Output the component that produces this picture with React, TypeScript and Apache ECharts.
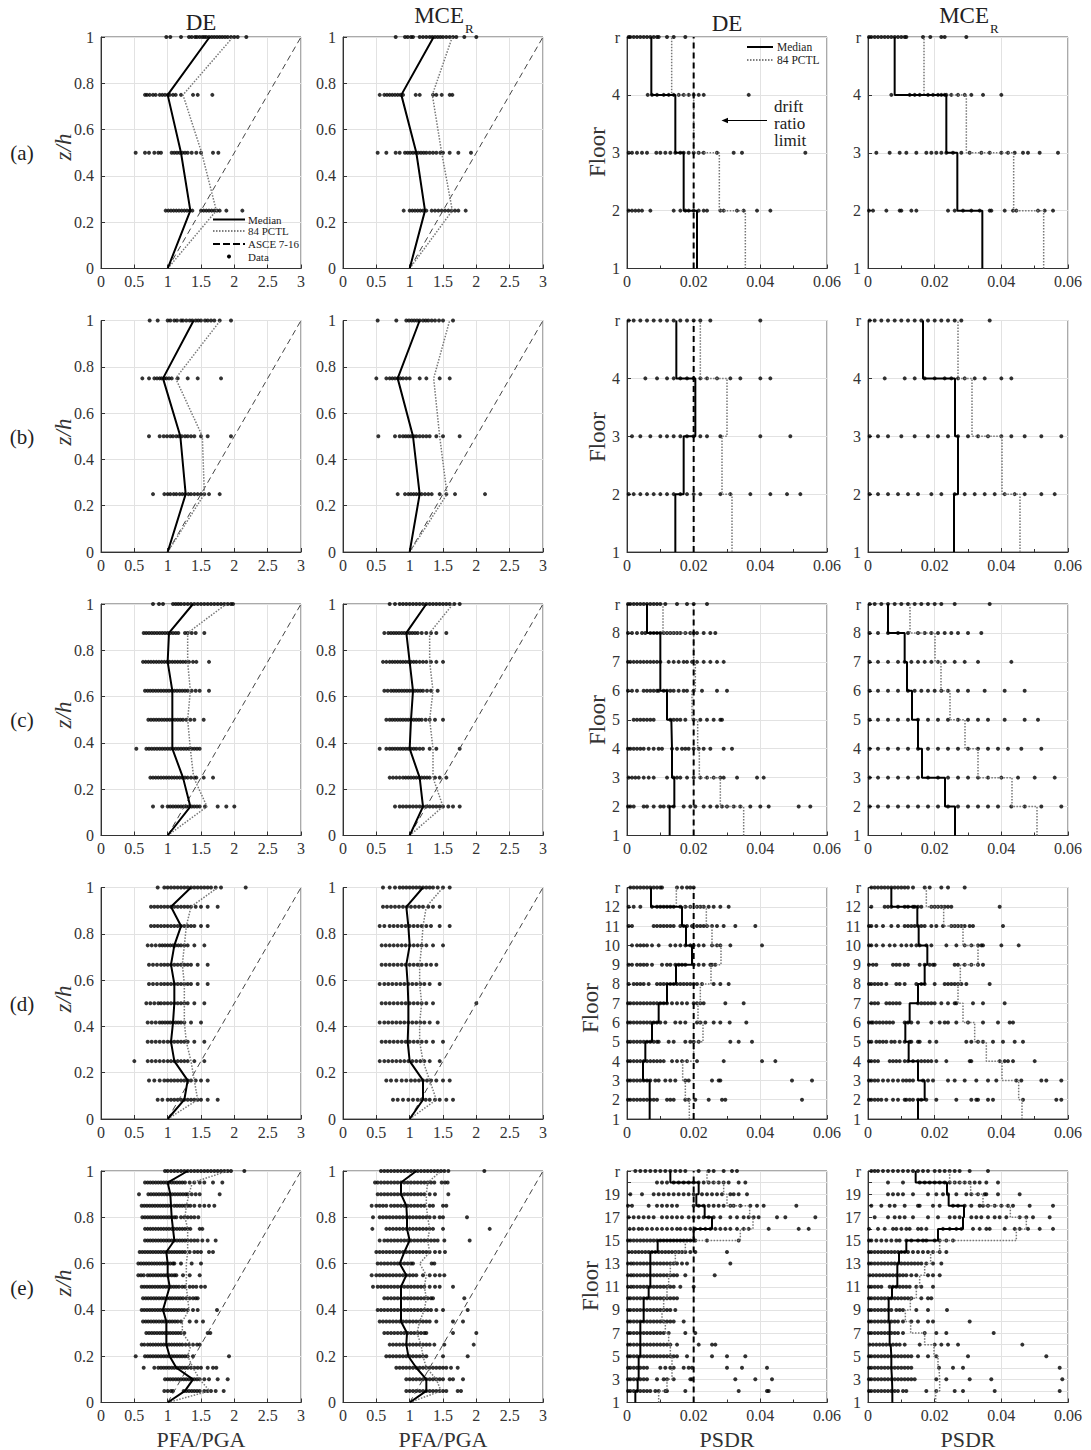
import React, { useEffect, useRef } from "react";
import * as echarts from "echarts";

const SERIF = "'Liberation Serif', 'Times New Roman', serif";

// ---------------- chart constants ----------------
const STOREYS = [4, 4, 8, 12, 20];
const ROW_LABELS = ["(a)", "(b)", "(c)", "(d)", "(e)"];
const ASCE_716 = [[1, 0], [3, 1]];
const DRIFT_LIMIT = 0.02;

// ---------------- row (a): 4 storeys ----------------
// PFA/PGA dots per level, from roof (z/h = 1) downwards
const aDE_pfa = [
  [0.98, 1.04, 1.2, 1.32, 1.36, 1.41, 1.44, 1.48, 1.52, 1.55, 1.58, 1.62, 1.66, 1.7, 1.74, 1.78, 1.82, 1.86, 1.9, 1.95, 2.0, 2.05, 2.18],
  [0.66, 0.69, 0.73, 0.78, 0.82, 0.88, 0.92, 0.96, 1.0, 1.03, 1.08, 1.12, 1.2, 1.38, 1.45, 1.67],
  [0.52, 0.66, 0.72, 0.8, 0.86, 0.9, 1.06, 1.1, 1.14, 1.18, 1.22, 1.26, 1.3, 1.36, 1.43, 1.5, 1.68, 1.76],
  [0.97, 1.01, 1.05, 1.09, 1.13, 1.17, 1.21, 1.25, 1.29, 1.33, 1.37, 1.5, 1.54, 1.58, 1.62, 1.66, 1.7, 1.74, 1.78, 1.88, 2.12],
];
const aDE_pfaMed = [1.0, 1.34, 1.2, 1.0, 1.63];
const aDE_pfa84 = [1.0, 1.73, 1.51, 1.23, 1.98];
const aMCE_pfa = [
  [0.79, 0.93, 0.97, 1.02, 1.05, 1.15, 1.2, 1.25, 1.3, 1.34, 1.38, 1.42, 1.46, 1.5, 1.55, 1.6, 1.65, 1.7, 1.82, 2.0],
  [0.55, 0.62, 0.66, 0.7, 0.74, 0.78, 0.82, 0.86, 0.9, 1.09, 1.15, 1.35, 1.4, 1.48, 1.6, 1.64],
  [0.52, 0.65, 0.79, 0.85, 0.93, 0.97, 1.01, 1.05, 1.09, 1.13, 1.17, 1.21, 1.25, 1.3, 1.35, 1.4, 1.46, 1.5, 1.6, 1.73, 1.92],
  [0.91, 1.0, 1.04, 1.08, 1.12, 1.16, 1.2, 1.25, 1.33, 1.38, 1.43, 1.48, 1.53, 1.58, 1.63, 1.68, 1.73, 1.84],
];
const aMCE_pfaMed = [1.0, 1.23, 1.1, 0.875, 1.36];
const aMCE_pfa84 = [1.0, 1.64, 1.48, 1.34, 1.64];
// PSDR dots per floor, from roof downwards to floor 2
const aDE_dr = [
  [0.0005, 0.001, 0.002, 0.003, 0.004, 0.005, 0.006, 0.007, 0.008, 0.009, 0.0095, 0.012, 0.014, 0.0175],
  [0.0062, 0.0075, 0.009, 0.011, 0.0125, 0.014, 0.0155, 0.017, 0.0185, 0.02, 0.0215, 0.023, 0.0365],
  [0.0005, 0.0015, 0.003, 0.0045, 0.006, 0.0088, 0.01, 0.0115, 0.013, 0.0145, 0.016, 0.017, 0.0185, 0.02, 0.0215, 0.023, 0.027, 0.032, 0.0345, 0.0535],
  [0.0005, 0.0015, 0.0025, 0.0035, 0.0045, 0.007, 0.014, 0.016, 0.0175, 0.0185, 0.02, 0.0215, 0.023, 0.024, 0.028, 0.029, 0.033, 0.035, 0.039, 0.043],
];
// storey medians / 84th percentiles, from storey 1 upwards
const aDE_drMed = [0.021, 0.017, 0.0145, 0.0073];
const aDE_dr84 = [0.0355, 0.0277, 0.02, 0.0134];
const aMCE_dr = [
  [0.0003, 0.001, 0.002, 0.003, 0.004, 0.005, 0.006, 0.007, 0.008, 0.009, 0.01, 0.011, 0.0115, 0.0165, 0.0187, 0.022, 0.023, 0.0295],
  [0.007, 0.0125, 0.014, 0.0155, 0.018, 0.0195, 0.021, 0.022, 0.023, 0.0235, 0.025, 0.027, 0.029, 0.031, 0.0345, 0.04],
  [0.0025, 0.0065, 0.0095, 0.0115, 0.0145, 0.0175, 0.019, 0.0205, 0.022, 0.0235, 0.0255, 0.028, 0.0305, 0.034, 0.0365, 0.04, 0.042, 0.044, 0.0465, 0.048, 0.0515, 0.057],
  [0.0003, 0.0015, 0.0055, 0.0095, 0.01, 0.013, 0.0145, 0.024, 0.026, 0.0285, 0.031, 0.0335, 0.0365, 0.037, 0.041, 0.0435, 0.0445, 0.051, 0.053, 0.0555],
];
const aMCE_drMed = [0.0343, 0.0268, 0.0235, 0.008];
const aMCE_dr84 = [0.0527, 0.0437, 0.0295, 0.0168];

// ---------------- row (b): 4 storeys ----------------
const bDE_pfa = [
  [0.73, 0.85, 1.0, 1.04, 1.1, 1.14, 1.2, 1.23, 1.28, 1.33, 1.37, 1.42, 1.46, 1.5, 1.56, 1.6, 1.65, 1.7, 1.78, 1.95],
  [0.62, 0.72, 0.8, 0.84, 0.88, 0.91, 0.95, 0.98, 1.02, 1.06, 1.15, 1.3, 1.45, 1.8],
  [0.72, 0.88, 0.94, 0.99, 1.04, 1.08, 1.13, 1.17, 1.21, 1.26, 1.3, 1.35, 1.4, 1.5, 1.6, 1.95],
  [0.78, 0.95, 1.0, 1.04, 1.09, 1.13, 1.18, 1.22, 1.26, 1.31, 1.35, 1.4, 1.45, 1.5, 1.55, 1.62, 1.78],
];
const bDE_pfaMed = [1.0, 1.27, 1.19, 0.93, 1.39];
const bDE_pfa84 = [1.0, 1.55, 1.52, 1.12, 1.79];
const bMCE_pfa = [
  [0.52, 0.8, 0.95, 0.99, 1.03, 1.07, 1.11, 1.15, 1.2, 1.24, 1.28, 1.33, 1.38, 1.44, 1.5, 1.65],
  [0.5, 0.65, 0.7, 0.74, 0.78, 0.82, 0.86, 0.9, 0.95, 1.0, 1.15, 1.25, 1.45, 1.6],
  [0.53, 0.78, 0.85, 0.9, 0.94, 0.98, 1.02, 1.06, 1.1, 1.15, 1.2, 1.25, 1.3, 1.4, 1.5, 1.75],
  [0.82, 0.93, 0.98, 1.02, 1.06, 1.1, 1.14, 1.18, 1.23, 1.28, 1.33, 1.45, 1.55, 1.68, 2.13],
];
const bMCE_pfaMed = [1.0, 1.15, 1.05, 0.82, 1.15];
const bMCE_pfa84 = [1.0, 1.56, 1.45, 1.36, 1.6];
const bDE_dr = [
  [0.0005, 0.002, 0.004, 0.006, 0.008, 0.01, 0.012, 0.014, 0.016, 0.018, 0.02, 0.022, 0.025, 0.04],
  [0.0055, 0.009, 0.012, 0.014, 0.016, 0.018, 0.02, 0.022, 0.024, 0.027, 0.031, 0.034, 0.04, 0.043],
  [0.0015, 0.004, 0.007, 0.01, 0.012, 0.014, 0.016, 0.018, 0.02, 0.022, 0.024, 0.028, 0.04, 0.049],
  [0.0005, 0.002, 0.004, 0.006, 0.008, 0.01, 0.012, 0.014, 0.016, 0.018, 0.02, 0.022, 0.028, 0.031, 0.037, 0.043, 0.048, 0.052],
];
const bDE_drMed = [0.0145, 0.017, 0.0205, 0.0148];
const bDE_dr84 = [0.0315, 0.0285, 0.03, 0.022];
const bMCE_dr = [
  [0.0005, 0.002, 0.004, 0.006, 0.008, 0.01, 0.012, 0.014, 0.016, 0.018, 0.02, 0.022, 0.024, 0.026, 0.028, 0.0365],
  [0.005, 0.011, 0.014, 0.017, 0.02, 0.023, 0.025, 0.027, 0.029, 0.032, 0.035, 0.04, 0.043],
  [0.0005, 0.003, 0.006, 0.01, 0.014, 0.018, 0.021, 0.024, 0.027, 0.03, 0.033, 0.036, 0.04, 0.043, 0.047, 0.052, 0.058],
  [0.0005, 0.003, 0.006, 0.009, 0.012, 0.015, 0.019, 0.022, 0.026, 0.029, 0.032, 0.035, 0.038, 0.041, 0.044, 0.047, 0.052, 0.056],
];
const bMCE_drMed = [0.0258, 0.027, 0.0261, 0.0165];
const bMCE_dr84 = [0.0456, 0.0402, 0.0312, 0.027];

// ---------------- row (c): 8 storeys ----------------
const cDE_pfa = [
  [0.78, 0.87, 0.93, 1.08, 1.12, 1.16, 1.2, 1.25, 1.3, 1.35, 1.4, 1.45, 1.5, 1.55, 1.6, 1.65, 1.7, 1.75, 1.8, 1.85, 1.9, 1.95, 1.98],
  [0.64, 0.68, 0.72, 0.76, 0.8, 0.84, 0.88, 0.92, 0.96, 1.0, 1.04, 1.08, 1.12, 1.16, 1.26, 1.3, 1.36, 1.42, 1.55],
  [0.63, 0.67, 0.71, 0.75, 0.79, 0.83, 0.87, 0.91, 0.95, 0.99, 1.03, 1.07, 1.11, 1.15, 1.19, 1.23, 1.27, 1.32, 1.38, 1.43, 1.62],
  [0.66, 0.7, 0.74, 0.78, 0.82, 0.86, 0.9, 0.94, 0.98, 1.02, 1.06, 1.1, 1.14, 1.18, 1.22, 1.26, 1.3, 1.36, 1.42, 1.48, 1.62],
  [0.71, 0.75, 0.79, 0.83, 0.87, 0.91, 0.95, 0.99, 1.03, 1.07, 1.11, 1.15, 1.19, 1.23, 1.28, 1.34, 1.4, 1.54],
  [0.53, 0.68, 0.72, 0.76, 0.8, 0.84, 0.88, 0.92, 0.96, 1.0, 1.04, 1.08, 1.12, 1.16, 1.2, 1.24, 1.28, 1.32, 1.36, 1.4, 1.44, 1.48],
  [0.74, 0.78, 0.82, 0.86, 0.9, 0.94, 0.98, 1.02, 1.06, 1.1, 1.14, 1.18, 1.22, 1.26, 1.3, 1.35, 1.4, 1.43, 1.54, 1.68],
  [0.78, 0.92, 1.0, 1.04, 1.08, 1.12, 1.16, 1.2, 1.24, 1.28, 1.32, 1.36, 1.4, 1.44, 1.48, 1.56, 1.75, 1.88, 2.0],
];
const cDE_pfaMed = [1.0, 1.34, 1.23, 1.07, 1.07, 1.07, 1.0, 1.02, 1.38];
const cDE_pfa84 = [1.0, 1.59, 1.39, 1.34, 1.3, 1.34, 1.3, 1.3, 1.88];
const cMCE_pfa = [
  [0.7, 0.78, 0.85, 0.9, 0.95, 1.0, 1.05, 1.1, 1.15, 1.2, 1.25, 1.3, 1.35, 1.4, 1.45, 1.5, 1.55, 1.6, 1.67, 1.75],
  [0.62, 0.68, 0.72, 0.76, 0.8, 0.84, 0.88, 0.92, 0.96, 1.0, 1.04, 1.08, 1.12, 1.18, 1.25, 1.32, 1.4, 1.55],
  [0.6, 0.65, 0.7, 0.74, 0.78, 0.82, 0.86, 0.9, 0.94, 0.98, 1.02, 1.06, 1.1, 1.15, 1.2, 1.25, 1.32, 1.4, 1.5],
  [0.62, 0.67, 0.72, 0.76, 0.8, 0.84, 0.88, 0.92, 0.96, 1.0, 1.04, 1.08, 1.12, 1.16, 1.2, 1.26, 1.32, 1.42],
  [0.65, 0.7, 0.74, 0.78, 0.82, 0.86, 0.9, 0.94, 0.98, 1.02, 1.06, 1.1, 1.14, 1.18, 1.24, 1.3, 1.38, 1.5],
  [0.55, 0.65, 0.7, 0.74, 0.78, 0.82, 0.86, 0.9, 0.94, 0.98, 1.02, 1.06, 1.1, 1.15, 1.2, 1.3, 1.4, 1.75],
  [0.7, 0.75, 0.8, 0.85, 0.9, 0.94, 0.98, 1.02, 1.06, 1.1, 1.14, 1.18, 1.22, 1.26, 1.3, 1.38, 1.45, 1.55],
  [0.78, 0.85, 0.9, 0.95, 1.0, 1.05, 1.1, 1.15, 1.2, 1.25, 1.3, 1.35, 1.4, 1.45, 1.5, 1.58, 1.65, 1.75],
];
const cMCE_pfaMed = [1.0, 1.2, 1.15, 1.0, 1.02, 1.05, 1.0, 0.95, 1.25];
const cMCE_pfa84 = [1.0, 1.5, 1.35, 1.35, 1.3, 1.35, 1.3, 1.3, 1.65];
const cDE_dr = [
  [0.0003, 0.001, 0.002, 0.003, 0.004, 0.005, 0.006, 0.007, 0.008, 0.009, 0.01, 0.0115, 0.015, 0.018, 0.02, 0.024],
  [0.0003, 0.0015, 0.003, 0.0045, 0.0055, 0.007, 0.008, 0.009, 0.01, 0.011, 0.012, 0.013, 0.014, 0.015, 0.016, 0.0175, 0.019, 0.02, 0.021, 0.023, 0.025, 0.0265],
  [0.0003, 0.001, 0.002, 0.003, 0.004, 0.005, 0.006, 0.007, 0.008, 0.009, 0.01, 0.0125, 0.014, 0.0155, 0.017, 0.018, 0.0195, 0.021, 0.023, 0.025, 0.027, 0.029],
  [0.0003, 0.0015, 0.003, 0.005, 0.006, 0.007, 0.008, 0.009, 0.0095, 0.011, 0.012, 0.013, 0.014, 0.0155, 0.017, 0.018, 0.02, 0.0225, 0.027, 0.03],
  [0.002, 0.003, 0.004, 0.005, 0.006, 0.007, 0.008, 0.013, 0.014, 0.015, 0.016, 0.0175, 0.02, 0.022, 0.024, 0.026, 0.028, 0.0285],
  [0.0003, 0.001, 0.002, 0.003, 0.004, 0.005, 0.0065, 0.008, 0.0095, 0.0105, 0.0135, 0.015, 0.0165, 0.0175, 0.0185, 0.02, 0.0215, 0.023, 0.025, 0.029, 0.0315],
  [0.0005, 0.0015, 0.0025, 0.0035, 0.005, 0.0065, 0.008, 0.012, 0.014, 0.015, 0.016, 0.018, 0.02, 0.022, 0.024, 0.026, 0.028, 0.029, 0.033, 0.039, 0.041],
  [0.0003, 0.001, 0.002, 0.005, 0.006, 0.008, 0.01, 0.011, 0.0125, 0.014, 0.017, 0.019, 0.0205, 0.023, 0.025, 0.027, 0.0285, 0.03, 0.032, 0.034, 0.037, 0.04, 0.0425, 0.0515, 0.055],
];
const cDE_drMed = [0.0128, 0.0142, 0.0135, 0.0133, 0.012, 0.01, 0.01, 0.006];
const cDE_dr84 = [0.035, 0.028, 0.0217, 0.0212, 0.0195, 0.0205, 0.02, 0.0108];
const cMCE_dr = [
  [0.0005, 0.002, 0.004, 0.006, 0.008, 0.01, 0.012, 0.014, 0.016, 0.018, 0.02, 0.022, 0.026, 0.0365],
  [0.0005, 0.003, 0.006, 0.009, 0.012, 0.015, 0.017, 0.019, 0.021, 0.023, 0.025, 0.027, 0.03, 0.034],
  [0.0005, 0.003, 0.006, 0.009, 0.011, 0.013, 0.015, 0.017, 0.019, 0.021, 0.023, 0.026, 0.029, 0.033, 0.043],
  [0.0005, 0.003, 0.006, 0.009, 0.012, 0.014, 0.016, 0.018, 0.02, 0.022, 0.024, 0.027, 0.03, 0.035, 0.041, 0.047],
  [0.0005, 0.003, 0.006, 0.009, 0.012, 0.015, 0.018, 0.021, 0.024, 0.027, 0.03, 0.033, 0.036, 0.041, 0.047, 0.051],
  [0.0005, 0.003, 0.006, 0.009, 0.012, 0.015, 0.018, 0.021, 0.024, 0.027, 0.03, 0.033, 0.036, 0.039, 0.042, 0.046, 0.052],
  [0.0005, 0.003, 0.006, 0.009, 0.012, 0.015, 0.018, 0.021, 0.024, 0.027, 0.03, 0.033, 0.036, 0.04, 0.045, 0.05, 0.056],
  [0.0005, 0.003, 0.006, 0.009, 0.012, 0.015, 0.018, 0.021, 0.024, 0.027, 0.03, 0.033, 0.036, 0.039, 0.043, 0.047, 0.052, 0.058],
];
const cMCE_drMed = [0.0261, 0.0231, 0.0162, 0.015, 0.0132, 0.0117, 0.011, 0.006];
const cMCE_dr84 = [0.0507, 0.0432, 0.033, 0.0291, 0.0246, 0.0219, 0.0201, 0.0126];

// ---------------- row (d): 12 storeys ----------------
const dDE_pfa = [
  [0.85, 0.95, 1.0, 1.05, 1.1, 1.15, 1.2, 1.25, 1.3, 1.35, 1.4, 1.45, 1.5, 1.55, 1.6, 1.65, 1.72, 1.8, 2.17],
  [0.75, 0.8, 0.85, 0.9, 0.95, 1.0, 1.05, 1.1, 1.15, 1.2, 1.25, 1.3, 1.35, 1.42, 1.5, 1.6, 1.75],
  [0.75, 0.8, 0.85, 0.9, 0.95, 1.0, 1.05, 1.1, 1.15, 1.2, 1.25, 1.3, 1.35, 1.4, 1.5, 1.6],
  [0.7, 0.76, 0.82, 0.88, 0.92, 0.96, 1.0, 1.04, 1.08, 1.12, 1.16, 1.2, 1.25, 1.3, 1.4, 1.55],
  [0.72, 0.78, 0.84, 0.9, 0.95, 1.0, 1.05, 1.1, 1.15, 1.2, 1.25, 1.3, 1.35, 1.45, 1.6],
  [0.72, 0.78, 0.84, 0.9, 0.95, 1.0, 1.05, 1.1, 1.15, 1.2, 1.25, 1.3, 1.35, 1.45, 1.6],
  [0.68, 0.74, 0.8, 0.86, 0.9, 0.95, 1.0, 1.05, 1.1, 1.15, 1.2, 1.25, 1.3, 1.4, 1.55],
  [0.7, 0.76, 0.82, 0.88, 0.92, 0.96, 1.0, 1.04, 1.08, 1.12, 1.16, 1.2, 1.25, 1.35, 1.5],
  [0.7, 0.76, 0.82, 0.88, 0.94, 1.0, 1.05, 1.1, 1.15, 1.2, 1.25, 1.3, 1.4, 1.55],
  [0.5, 0.7, 0.76, 0.82, 0.88, 0.94, 1.0, 1.05, 1.1, 1.15, 1.2, 1.25, 1.3, 1.4, 1.55],
  [0.72, 0.8, 0.88, 0.95, 1.0, 1.05, 1.1, 1.15, 1.2, 1.25, 1.3, 1.35, 1.42, 1.5, 1.6],
  [0.85, 0.92, 1.0, 1.05, 1.1, 1.15, 1.2, 1.25, 1.3, 1.35, 1.4, 1.45, 1.5, 1.6, 1.75],
];
const dDE_pfaMed = [1.0, 1.25, 1.3, 1.1, 1.05, 1.08, 1.1, 1.1, 1.05, 1.1, 1.2, 1.05, 1.35];
const dDE_pfa84 = [1.0, 1.45, 1.4, 1.35, 1.28, 1.25, 1.25, 1.25, 1.22, 1.25, 1.28, 1.35, 1.75];
const dMCE_pfa = [
  [0.6, 0.7, 0.78, 0.85, 0.9, 0.95, 1.0, 1.05, 1.1, 1.15, 1.2, 1.25, 1.3, 1.35, 1.42, 1.5, 1.6],
  [0.6, 0.66, 0.72, 0.78, 0.84, 0.9, 0.96, 1.02, 1.08, 1.14, 1.2, 1.28, 1.35, 1.45],
  [0.55, 0.62, 0.7, 0.76, 0.82, 0.88, 0.94, 1.0, 1.06, 1.12, 1.18, 1.25, 1.32, 1.45, 1.6],
  [0.58, 0.64, 0.7, 0.76, 0.82, 0.88, 0.94, 1.0, 1.06, 1.12, 1.18, 1.25, 1.35, 1.5],
  [0.58, 0.64, 0.7, 0.76, 0.82, 0.88, 0.94, 1.0, 1.06, 1.12, 1.18, 1.25, 1.32, 1.4],
  [0.55, 0.62, 0.68, 0.74, 0.8, 0.86, 0.92, 0.98, 1.04, 1.1, 1.16, 1.22, 1.3, 1.45],
  [0.58, 0.64, 0.7, 0.76, 0.82, 0.88, 0.94, 1.0, 1.06, 1.12, 1.18, 1.25, 1.35, 2.0],
  [0.55, 0.62, 0.68, 0.74, 0.8, 0.86, 0.92, 0.98, 1.04, 1.1, 1.16, 1.22, 1.3, 1.42],
  [0.58, 0.64, 0.7, 0.76, 0.82, 0.88, 0.94, 1.0, 1.06, 1.12, 1.18, 1.25, 1.35, 1.5],
  [0.55, 0.62, 0.68, 0.74, 0.8, 0.86, 0.92, 0.98, 1.04, 1.1, 1.16, 1.22, 1.3, 1.45],
  [0.65, 0.72, 0.8, 0.88, 0.95, 1.02, 1.08, 1.14, 1.2, 1.26, 1.32, 1.4, 1.5, 1.6],
  [0.75, 0.82, 0.9, 0.98, 1.05, 1.12, 1.18, 1.24, 1.3, 1.38, 1.45, 1.55, 1.65],
];
const dMCE_pfaMed = [1.0, 1.2, 1.2, 1.0, 0.97, 0.98, 0.98, 0.97, 0.95, 1.0, 0.98, 0.95, 1.2];
const dMCE_pfa84 = [1.0, 1.4, 1.3, 1.2, 1.15, 1.15, 1.18, 1.15, 1.15, 1.18, 1.2, 1.25, 1.5];
const dDE_dr = [
  [0.001, 0.002, 0.003, 0.004, 0.005, 0.006, 0.007, 0.008, 0.009, 0.01, 0.0105, 0.015, 0.0165, 0.018, 0.019, 0.02],
  [0.0005, 0.002, 0.004, 0.0075, 0.009, 0.01, 0.011, 0.012, 0.013, 0.014, 0.016, 0.0175, 0.019, 0.021, 0.022, 0.023, 0.0245, 0.026, 0.028, 0.0305],
  [0.0005, 0.0015, 0.008, 0.009, 0.01, 0.011, 0.012, 0.013, 0.014, 0.016, 0.017, 0.018, 0.0195, 0.021, 0.022, 0.023, 0.024, 0.0255, 0.027, 0.029, 0.0325, 0.0385],
  [0.0015, 0.003, 0.004, 0.005, 0.006, 0.0075, 0.0095, 0.013, 0.0145, 0.016, 0.0175, 0.019, 0.02, 0.0215, 0.023, 0.0255, 0.027, 0.028, 0.031, 0.0405],
  [0.0005, 0.0015, 0.003, 0.004, 0.005, 0.006, 0.0075, 0.0105, 0.012, 0.013, 0.0145, 0.0155, 0.0165, 0.0175, 0.02, 0.0215, 0.023, 0.025, 0.0255, 0.0265],
  [0.0005, 0.002, 0.003, 0.004, 0.005, 0.0065, 0.009, 0.01, 0.011, 0.012, 0.013, 0.014, 0.015, 0.016, 0.017, 0.018, 0.019, 0.02, 0.021, 0.0225, 0.026, 0.028, 0.0305],
  [0.0003, 0.001, 0.002, 0.003, 0.004, 0.005, 0.006, 0.007, 0.008, 0.009, 0.01, 0.011, 0.012, 0.0135, 0.015, 0.0165, 0.018, 0.02, 0.021, 0.022, 0.023, 0.0295, 0.035],
  [0.0003, 0.001, 0.002, 0.003, 0.004, 0.005, 0.006, 0.007, 0.008, 0.009, 0.01, 0.0115, 0.0145, 0.016, 0.0175, 0.021, 0.022, 0.0235, 0.026, 0.028, 0.0308, 0.0358],
  [0.0003, 0.001, 0.002, 0.003, 0.004, 0.005, 0.006, 0.007, 0.008, 0.009, 0.0095, 0.0125, 0.014, 0.0175, 0.019, 0.02, 0.0215, 0.031, 0.0335, 0.0375],
  [0.0003, 0.001, 0.002, 0.003, 0.004, 0.005, 0.006, 0.007, 0.008, 0.009, 0.01, 0.011, 0.0135, 0.015, 0.0165, 0.018, 0.021, 0.029, 0.0405, 0.0445],
  [0.0003, 0.001, 0.002, 0.003, 0.004, 0.005, 0.006, 0.007, 0.0085, 0.0095, 0.0115, 0.013, 0.0145, 0.0175, 0.0185, 0.0255, 0.0275, 0.028, 0.0495, 0.0555],
  [0.0003, 0.001, 0.002, 0.003, 0.004, 0.005, 0.006, 0.007, 0.008, 0.009, 0.012, 0.013, 0.014, 0.0175, 0.0185, 0.0205, 0.0245, 0.0285, 0.0295, 0.0525],
];
const dDE_drMed = [0.0068, 0.0068, 0.0048, 0.0055, 0.0075, 0.0095, 0.012, 0.0147, 0.0195, 0.0177, 0.0165, 0.0072];
const dDE_dr84 = [0.0187, 0.0175, 0.0167, 0.02, 0.0228, 0.0213, 0.022, 0.0252, 0.0282, 0.0255, 0.0238, 0.0148];
const dMCE_dr = [
  [0.001, 0.002, 0.003, 0.004, 0.005, 0.006, 0.007, 0.008, 0.009, 0.01, 0.011, 0.012, 0.0135, 0.017, 0.0185, 0.022, 0.024, 0.029],
  [0.001, 0.005, 0.006, 0.007, 0.009, 0.011, 0.012, 0.0135, 0.014, 0.015, 0.016, 0.019, 0.02, 0.021, 0.022, 0.023, 0.024, 0.025, 0.0395],
  [0.0003, 0.001, 0.0025, 0.0045, 0.007, 0.009, 0.011, 0.012, 0.013, 0.014, 0.015, 0.016, 0.017, 0.019, 0.0205, 0.0225, 0.025, 0.026, 0.027, 0.028, 0.029, 0.0305, 0.0315, 0.0405],
  [0.0003, 0.001, 0.0025, 0.0045, 0.0065, 0.008, 0.01, 0.0115, 0.013, 0.0145, 0.0155, 0.0175, 0.019, 0.0235, 0.0265, 0.029, 0.031, 0.033, 0.034, 0.0345, 0.04, 0.0452],
  [0.0003, 0.0015, 0.0025, 0.0075, 0.0085, 0.0095, 0.011, 0.012, 0.0155, 0.017, 0.0185, 0.0195, 0.02, 0.026, 0.027, 0.029, 0.031, 0.033, 0.0345],
  [0.0003, 0.001, 0.002, 0.003, 0.004, 0.0055, 0.0085, 0.0095, 0.011, 0.0145, 0.016, 0.017, 0.02, 0.023, 0.024, 0.025, 0.026, 0.027, 0.028, 0.0295, 0.0365],
  [0.001, 0.002, 0.003, 0.0055, 0.0065, 0.0075, 0.0085, 0.0095, 0.015, 0.016, 0.017, 0.018, 0.019, 0.02, 0.022, 0.024, 0.026, 0.0265, 0.0315, 0.0345, 0.041],
  [0.0003, 0.001, 0.0015, 0.0025, 0.0035, 0.0045, 0.0055, 0.0065, 0.0075, 0.011, 0.012, 0.013, 0.015, 0.019, 0.0215, 0.023, 0.024, 0.0265, 0.03, 0.0345, 0.039, 0.0425, 0.0435],
  [0.0003, 0.001, 0.0025, 0.0035, 0.0045, 0.0055, 0.007, 0.008, 0.0095, 0.011, 0.0125, 0.013, 0.015, 0.0155, 0.0185, 0.0205, 0.0295, 0.031, 0.033, 0.0345, 0.0375, 0.0405, 0.044, 0.0465],
  [0.0003, 0.001, 0.002, 0.003, 0.0065, 0.0075, 0.0085, 0.0095, 0.011, 0.012, 0.0135, 0.015, 0.016, 0.017, 0.018, 0.019, 0.0205, 0.0235, 0.0305, 0.031, 0.0395, 0.041, 0.042, 0.0435, 0.05],
  [0.0003, 0.001, 0.002, 0.003, 0.0045, 0.006, 0.0075, 0.009, 0.0105, 0.0115, 0.0125, 0.0135, 0.0165, 0.018, 0.0195, 0.024, 0.026, 0.029, 0.0325, 0.036, 0.0385, 0.0445, 0.046, 0.052, 0.0535, 0.058],
  [0.0003, 0.001, 0.002, 0.003, 0.004, 0.0055, 0.0075, 0.009, 0.011, 0.0115, 0.0125, 0.0135, 0.015, 0.016, 0.0175, 0.0205, 0.0265, 0.031, 0.0325, 0.033, 0.036, 0.0375, 0.0465, 0.0565, 0.058],
];
const dMCE_drMed = [0.015, 0.017, 0.015, 0.0122, 0.0112, 0.0125, 0.015, 0.017, 0.0178, 0.0152, 0.0148, 0.007];
const dMCE_dr84 = [0.0462, 0.0452, 0.0402, 0.0355, 0.032, 0.0285, 0.027, 0.0277, 0.033, 0.0285, 0.0227, 0.0175];

// ---------------- row (e): 20 storeys ----------------
const eDE_pfa = [
  [0.96, 1.0, 1.05, 1.1, 1.15, 1.2, 1.25, 1.3, 1.35, 1.4, 1.45, 1.5, 1.55, 1.6, 1.65, 1.7, 1.75, 1.8, 1.85, 1.9, 1.95, 2.15],
  [0.66, 0.7, 0.74, 0.78, 0.82, 0.86, 0.9, 0.94, 0.98, 1.02, 1.06, 1.1, 1.14, 1.18, 1.22, 1.26, 1.33, 1.4, 1.48, 1.55, 1.68, 1.82],
  [0.57, 0.71, 0.75, 0.79, 0.83, 0.87, 0.91, 0.95, 0.99, 1.03, 1.07, 1.11, 1.15, 1.19, 1.23, 1.27, 1.3, 1.36, 1.42, 1.48, 1.78],
  [0.61, 0.65, 0.69, 0.73, 0.77, 0.81, 0.85, 0.89, 0.93, 0.97, 1.01, 1.05, 1.1, 1.14, 1.18, 1.22, 1.26, 1.3, 1.34, 1.4, 1.48, 1.55, 1.62, 1.7],
  [0.62, 0.66, 0.7, 0.74, 0.78, 0.82, 0.86, 0.9, 0.94, 0.98, 1.02, 1.06, 1.1, 1.13, 1.2, 1.25, 1.3, 1.35, 1.4, 1.46],
  [0.66, 0.7, 0.74, 0.78, 0.82, 0.86, 0.9, 0.94, 0.98, 1.02, 1.06, 1.1, 1.14, 1.18, 1.22, 1.26, 1.3, 1.34, 1.48, 1.52],
  [0.66, 0.7, 0.74, 0.78, 0.82, 0.86, 0.9, 0.94, 0.98, 1.02, 1.06, 1.1, 1.14, 1.18, 1.22, 1.26, 1.3, 1.35, 1.4, 1.45, 1.52, 1.6, 1.72],
  [0.58, 0.62, 0.66, 0.7, 0.74, 0.78, 0.82, 0.86, 0.9, 0.94, 0.98, 1.02, 1.06, 1.1, 1.14, 1.18, 1.22, 1.26, 1.33, 1.4, 1.45, 1.5, 1.62, 1.68],
  [0.56, 0.6, 0.64, 0.68, 0.72, 0.76, 0.8, 0.84, 0.88, 0.92, 0.96, 1.0, 1.04, 1.08, 1.1, 1.2, 1.36, 1.5],
  [0.56, 0.6, 0.64, 0.7, 0.74, 0.78, 0.82, 0.86, 0.9, 0.94, 0.98, 1.02, 1.06, 1.1, 1.13, 1.23, 1.33, 1.48],
  [0.61, 0.65, 0.69, 0.73, 0.77, 0.81, 0.85, 0.89, 0.93, 0.97, 1.01, 1.05, 1.09, 1.13, 1.17, 1.22, 1.26, 1.33, 1.38, 1.43, 1.5, 1.56],
  [0.63, 0.67, 0.71, 0.75, 0.79, 0.83, 0.87, 0.91, 0.95, 0.99, 1.03, 1.07, 1.11, 1.15, 1.19, 1.23, 1.28, 1.33, 1.38, 1.42, 1.45],
  [0.61, 0.65, 0.69, 0.73, 0.77, 0.81, 0.85, 0.89, 0.93, 0.97, 1.01, 1.05, 1.09, 1.13, 1.17, 1.21, 1.25, 1.3, 1.38, 1.45, 1.74],
  [0.63, 0.67, 0.71, 0.75, 0.79, 0.83, 0.87, 0.91, 0.95, 0.99, 1.03, 1.07, 1.11, 1.15, 1.2, 1.33, 1.43, 1.53],
  [0.68, 0.72, 0.76, 0.8, 0.84, 0.88, 0.92, 0.96, 1.0, 1.04, 1.08, 1.12, 1.16, 1.2, 1.25, 1.6, 1.64],
  [0.61, 0.65, 0.7, 0.74, 0.78, 0.82, 0.86, 0.9, 0.94, 0.98, 1.02, 1.06, 1.1, 1.14, 1.18, 1.22, 1.27, 1.32, 1.38, 1.44, 1.48],
  [0.52, 0.66, 0.7, 0.74, 0.78, 0.82, 0.86, 0.9, 0.94, 0.98, 1.02, 1.06, 1.1, 1.14, 1.18, 1.22, 1.26, 1.3, 1.38, 1.92],
  [0.64, 0.8, 0.86, 0.9, 0.94, 0.98, 1.02, 1.06, 1.1, 1.14, 1.18, 1.22, 1.26, 1.3, 1.35, 1.4, 1.45, 1.5, 1.6, 1.68, 1.73],
  [0.96, 1.0, 1.04, 1.08, 1.12, 1.16, 1.2, 1.24, 1.28, 1.32, 1.36, 1.4, 1.44, 1.48, 1.55, 1.62, 1.75, 1.9],
  [0.95, 1.0, 1.05, 1.08, 1.24, 1.28, 1.32, 1.36, 1.4, 1.44, 1.48, 1.55, 1.6, 1.65, 1.72, 1.84],
];
const eDE_pfaMed = [1.0, 1.26, 1.38, 1.13, 1.03, 0.98, 0.98, 0.98, 0.93, 0.98, 1.03, 1.0, 1.0, 0.98, 1.1, 1.08, 1.06, 1.05, 1.04, 1.0, 1.3];
const eDE_pfa84 = [1.0, 1.63, 1.48, 1.38, 1.3, 1.35, 1.22, 1.22, 1.32, 1.3, 1.28, 1.28, 1.28, 1.3, 1.3, 1.3, 1.26, 1.28, 1.32, 1.37, 1.9];
const eMCE_pfa = [
  [0.57, 0.62, 0.67, 0.72, 0.77, 0.82, 0.87, 0.92, 0.97, 1.02, 1.07, 1.12, 1.17, 1.22, 1.27, 1.32, 1.37, 1.42, 1.47, 1.52, 1.58, 2.12],
  [0.48, 0.52, 0.57, 0.62, 0.67, 0.72, 0.77, 0.82, 0.87, 0.92, 0.97, 1.02, 1.07, 1.12, 1.17, 1.22, 1.27, 1.32, 1.37, 1.48, 1.53, 1.57],
  [0.52, 0.57, 0.62, 0.67, 0.72, 0.77, 0.82, 0.87, 0.92, 0.97, 1.02, 1.07, 1.12, 1.17, 1.22, 1.3, 1.38, 1.58],
  [0.43, 0.5, 0.55, 0.6, 0.65, 0.72, 0.77, 0.82, 0.87, 0.92, 0.97, 1.02, 1.07, 1.12, 1.17, 1.22, 1.3, 1.35, 1.5, 1.55],
  [0.45, 0.55, 0.6, 0.65, 0.7, 0.75, 0.8, 0.85, 0.9, 0.95, 1.0, 1.05, 1.1, 1.15, 1.2, 1.25, 1.3, 1.37, 1.45, 1.5, 1.86],
  [0.44, 0.65, 0.7, 0.75, 0.8, 0.85, 0.9, 0.95, 1.0, 1.05, 1.1, 1.15, 1.2, 1.25, 1.3, 1.35, 1.5, 2.2],
  [0.55, 0.62, 0.67, 0.72, 0.77, 0.82, 0.87, 0.92, 0.97, 1.02, 1.07, 1.12, 1.17, 1.22, 1.27, 1.32, 1.37, 1.42, 1.52, 1.9],
  [0.5, 0.55, 0.6, 0.65, 0.7, 0.75, 0.8, 0.85, 0.9, 0.95, 1.0, 1.05, 1.1, 1.15, 1.2, 1.25, 1.3, 1.38, 1.45, 1.53],
  [0.52, 0.57, 0.62, 0.67, 0.72, 0.77, 0.82, 0.87, 0.92, 0.97, 1.02, 1.05, 1.33, 1.37],
  [0.43, 0.5, 0.55, 0.6, 0.65, 0.7, 0.75, 0.8, 0.85, 0.9, 0.95, 1.0, 1.05, 1.1, 1.2, 1.3, 1.38, 1.45, 1.52],
  [0.45, 0.52, 0.57, 0.62, 0.67, 0.72, 0.77, 0.82, 0.87, 0.92, 0.97, 1.02, 1.07, 1.12, 1.17, 1.22, 1.3, 1.38, 1.45, 1.65],
  [0.62, 0.67, 0.72, 0.77, 0.82, 0.87, 0.92, 0.97, 1.02, 1.07, 1.12, 1.17, 1.22, 1.27, 1.32, 1.35, 1.82],
  [0.52, 0.57, 0.62, 0.67, 0.72, 0.77, 0.82, 0.87, 0.92, 0.97, 1.02, 1.07, 1.12, 1.17, 1.22, 1.27, 1.32, 1.4, 1.5, 1.87],
  [0.55, 0.6, 0.65, 0.7, 0.75, 0.8, 0.85, 0.9, 0.95, 1.0, 1.05, 1.1, 1.15, 1.2, 1.25, 1.3, 1.4, 1.65, 1.8],
  [0.62, 0.67, 0.72, 0.77, 0.82, 0.87, 0.92, 0.97, 1.02, 1.07, 1.12, 1.17, 1.22, 1.25, 1.65, 2.0],
  [0.7, 0.75, 0.8, 0.85, 0.9, 0.95, 1.0, 1.05, 1.1, 1.15, 1.2, 1.25, 1.3, 1.37, 1.52, 1.96],
  [0.65, 0.7, 0.75, 0.8, 0.85, 0.9, 0.95, 1.0, 1.05, 1.1, 1.15, 1.2, 1.25, 1.5, 1.87],
  [0.8, 0.85, 0.9, 0.95, 1.0, 1.05, 1.1, 1.15, 1.2, 1.25, 1.3, 1.35, 1.4, 1.45, 1.5, 1.55, 1.62, 1.72],
  [0.95, 1.0, 1.05, 1.1, 1.15, 1.2, 1.25, 1.3, 1.35, 1.4, 1.45, 1.5, 1.6, 1.65, 1.8],
  [0.95, 1.0, 1.05, 1.1, 1.15, 1.2, 1.25, 1.3, 1.35, 1.4, 1.45, 1.5, 1.55, 1.72, 1.77],
];
const eMCE_pfaMed = [1.0, 1.25, 1.25, 1.1, 0.98, 0.95, 0.96, 0.87, 0.87, 0.87, 0.87, 0.95, 0.85, 0.92, 1.0, 0.96, 0.96, 0.95, 0.87, 0.87, 1.1];
const eMCE_pfa84 = [1.0, 1.47, 1.4, 1.25, 1.2, 1.17, 1.11, 1.15, 1.22, 1.25, 1.22, 1.25, 1.15, 1.3, 1.27, 1.3, 1.27, 1.25, 1.25, 1.27, 1.47];
const eDE_dr = [
  [0.0025, 0.004, 0.0055, 0.007, 0.0085, 0.01, 0.0115, 0.013, 0.0145, 0.016, 0.0175, 0.0215, 0.0245, 0.026, 0.029, 0.0315, 0.033],
  [0.009, 0.0105, 0.012, 0.014, 0.0155, 0.017, 0.0185, 0.02, 0.0215, 0.023, 0.0245, 0.026, 0.0275, 0.029, 0.0305, 0.0335, 0.0355],
  [0.001, 0.0045, 0.008, 0.0095, 0.011, 0.0125, 0.014, 0.0155, 0.017, 0.0185, 0.02, 0.0225, 0.024, 0.0255, 0.027, 0.0285, 0.031, 0.032, 0.0335, 0.036],
  [0.0003, 0.0015, 0.0065, 0.009, 0.0105, 0.012, 0.0135, 0.015, 0.02, 0.0215, 0.023, 0.0245, 0.026, 0.0275, 0.029, 0.031, 0.032, 0.034, 0.037, 0.039, 0.041, 0.0508],
  [0.0005, 0.002, 0.0035, 0.005, 0.0065, 0.008, 0.0105, 0.012, 0.0135, 0.015, 0.0165, 0.0185, 0.02, 0.0215, 0.023, 0.0245, 0.026, 0.028, 0.031, 0.033, 0.035, 0.0365, 0.038, 0.0395, 0.045, 0.0475, 0.0565],
  [0.0008, 0.002, 0.0035, 0.0045, 0.006, 0.0075, 0.009, 0.0105, 0.012, 0.0135, 0.015, 0.016, 0.0175, 0.019, 0.0205, 0.022, 0.0235, 0.025, 0.0265, 0.028, 0.0295, 0.031, 0.033, 0.035, 0.0365, 0.0425, 0.0515, 0.0545],
  [0.0003, 0.001, 0.002, 0.003, 0.004, 0.005, 0.006, 0.007, 0.008, 0.009, 0.01, 0.011, 0.012, 0.013, 0.014, 0.015, 0.016, 0.017, 0.018, 0.019, 0.0205, 0.024, 0.0335],
  [0.0005, 0.0015, 0.0025, 0.0035, 0.0045, 0.0055, 0.0065, 0.0075, 0.0085, 0.0095, 0.0105, 0.0115, 0.0125, 0.0135, 0.0145, 0.0155, 0.0165, 0.0175, 0.019, 0.0205, 0.03],
  [0.0003, 0.0012, 0.002, 0.003, 0.004, 0.005, 0.006, 0.007, 0.008, 0.009, 0.01, 0.011, 0.012, 0.013, 0.014, 0.015, 0.0165, 0.018, 0.031],
  [0.0003, 0.0012, 0.002, 0.003, 0.004, 0.005, 0.006, 0.007, 0.008, 0.009, 0.01, 0.011, 0.012, 0.013, 0.014, 0.015, 0.0175, 0.0263],
  [0.0003, 0.0012, 0.002, 0.003, 0.004, 0.005, 0.006, 0.007, 0.008, 0.009, 0.01, 0.011, 0.012, 0.013, 0.014, 0.016, 0.02],
  [0.0003, 0.001, 0.002, 0.003, 0.004, 0.005, 0.006, 0.007, 0.008, 0.009, 0.01, 0.011, 0.012, 0.013, 0.014, 0.015],
  [0.0003, 0.001, 0.002, 0.003, 0.004, 0.005, 0.006, 0.007, 0.008, 0.009, 0.01, 0.011, 0.012, 0.013, 0.0145],
  [0.0003, 0.001, 0.002, 0.003, 0.004, 0.005, 0.006, 0.007, 0.008, 0.009, 0.01, 0.011, 0.012, 0.013, 0.014, 0.017],
  [0.0003, 0.001, 0.002, 0.003, 0.004, 0.005, 0.006, 0.007, 0.008, 0.009, 0.01, 0.011, 0.0125, 0.0175, 0.0205],
  [0.0003, 0.001, 0.002, 0.003, 0.004, 0.005, 0.006, 0.007, 0.008, 0.009, 0.01, 0.011, 0.012, 0.013, 0.015, 0.0215, 0.0255, 0.0265],
  [0.0003, 0.001, 0.002, 0.003, 0.004, 0.005, 0.006, 0.007, 0.008, 0.009, 0.01, 0.011, 0.012, 0.013, 0.014, 0.015, 0.018, 0.0255, 0.03, 0.0355],
  [0.0003, 0.001, 0.002, 0.003, 0.004, 0.005, 0.006, 0.01, 0.0115, 0.013, 0.014, 0.017, 0.0185, 0.0195, 0.03, 0.0345, 0.042],
  [0.0003, 0.001, 0.002, 0.003, 0.004, 0.005, 0.006, 0.009, 0.011, 0.012, 0.014, 0.019, 0.0195, 0.0325, 0.0385, 0.0435],
  [0.0003, 0.001, 0.002, 0.003, 0.004, 0.005, 0.006, 0.007, 0.0085, 0.0095, 0.0115, 0.012, 0.0175, 0.0335, 0.042, 0.0425],
];
const eDE_drMed = [0.0025, 0.0032, 0.0035, 0.0035, 0.004, 0.004, 0.004, 0.005, 0.005, 0.0065, 0.007, 0.007, 0.007, 0.0092, 0.02, 0.0255, 0.0233, 0.0208, 0.0215, 0.013];
const eDE_dr84 = [0.0095, 0.012, 0.0135, 0.0135, 0.013, 0.0125, 0.0115, 0.0105, 0.011, 0.012, 0.0125, 0.013, 0.0145, 0.0175, 0.034, 0.0378, 0.0368, 0.03, 0.029, 0.024];
const eMCE_dr = [
  [0.001, 0.002, 0.003, 0.0045, 0.006, 0.0075, 0.009, 0.0105, 0.012, 0.0135, 0.015, 0.0165, 0.018, 0.02, 0.0215, 0.023, 0.0245, 0.026, 0.0275, 0.0305, 0.036],
  [0.006, 0.0105, 0.0155, 0.017, 0.0185, 0.02, 0.0215, 0.023, 0.0245, 0.026, 0.0275, 0.029, 0.0305, 0.032, 0.0335, 0.0355, 0.039],
  [0.006, 0.0075, 0.009, 0.0105, 0.0135, 0.018, 0.0205, 0.0225, 0.024, 0.0265, 0.0295, 0.031, 0.033, 0.035, 0.0355, 0.039, 0.0455],
  [0.001, 0.004, 0.0065, 0.008, 0.011, 0.015, 0.0155, 0.0195, 0.0215, 0.0255, 0.027, 0.029, 0.031, 0.0335, 0.0345, 0.036, 0.038, 0.04, 0.042, 0.0435, 0.0485, 0.0555],
  [0.002, 0.006, 0.008, 0.0095, 0.011, 0.0135, 0.018, 0.021, 0.0245, 0.026, 0.0275, 0.031, 0.0325, 0.034, 0.036, 0.038, 0.0395, 0.0415, 0.0455, 0.0475, 0.0495, 0.0545],
  [0.0003, 0.003, 0.005, 0.0075, 0.0085, 0.01, 0.0115, 0.0125, 0.015, 0.016, 0.0175, 0.0225, 0.0245, 0.0265, 0.028, 0.0315, 0.0335, 0.0355, 0.0365, 0.041, 0.044, 0.0455, 0.048, 0.0515, 0.0555],
  [0.0003, 0.001, 0.0025, 0.004, 0.0055, 0.007, 0.0085, 0.0095, 0.0115, 0.013, 0.015, 0.0165, 0.0175, 0.02, 0.0215, 0.0235, 0.0255],
  [0.0003, 0.001, 0.002, 0.003, 0.004, 0.005, 0.006, 0.007, 0.008, 0.009, 0.01, 0.011, 0.012, 0.0135, 0.015, 0.0165, 0.018, 0.0195, 0.0215, 0.0235],
  [0.0003, 0.001, 0.002, 0.003, 0.004, 0.005, 0.006, 0.007, 0.008, 0.009, 0.01, 0.011, 0.012, 0.013, 0.014, 0.015, 0.016, 0.0175, 0.0195, 0.022],
  [0.0005, 0.0015, 0.0025, 0.0035, 0.0045, 0.0055, 0.0065, 0.0075, 0.0085, 0.0095, 0.0105, 0.0115, 0.013, 0.0145, 0.018, 0.0195, 0.0215],
  [0.0003, 0.001, 0.002, 0.003, 0.004, 0.0065, 0.0075, 0.0085, 0.0095, 0.0105, 0.0115, 0.0125, 0.0145, 0.016, 0.0195],
  [0.0003, 0.001, 0.002, 0.003, 0.004, 0.005, 0.006, 0.007, 0.008, 0.009, 0.01, 0.011, 0.012, 0.013, 0.016, 0.018, 0.019],
  [0.0003, 0.001, 0.002, 0.003, 0.004, 0.005, 0.006, 0.007, 0.0085, 0.0095, 0.0105, 0.0145, 0.018, 0.0237],
  [0.0003, 0.001, 0.002, 0.003, 0.004, 0.005, 0.006, 0.007, 0.008, 0.009, 0.0105, 0.013, 0.015, 0.018, 0.0195, 0.0305],
  [0.0003, 0.001, 0.002, 0.003, 0.004, 0.005, 0.006, 0.007, 0.008, 0.009, 0.0105, 0.017, 0.0205, 0.0235, 0.0377],
  [0.0005, 0.0015, 0.0025, 0.0035, 0.0045, 0.0055, 0.0065, 0.0075, 0.0085, 0.0095, 0.011, 0.0155, 0.02, 0.022, 0.024, 0.027, 0.0463],
  [0.0003, 0.001, 0.002, 0.003, 0.004, 0.005, 0.006, 0.007, 0.008, 0.009, 0.01, 0.011, 0.012, 0.013, 0.015, 0.018, 0.0205, 0.03, 0.0535],
  [0.0003, 0.001, 0.002, 0.003, 0.004, 0.005, 0.006, 0.007, 0.008, 0.009, 0.01, 0.011, 0.012, 0.013, 0.0213, 0.0255, 0.0285, 0.0575],
  [0.0003, 0.001, 0.002, 0.003, 0.004, 0.005, 0.006, 0.007, 0.008, 0.009, 0.01, 0.011, 0.012, 0.013, 0.014, 0.0205, 0.0235, 0.0305, 0.037, 0.0583],
  [0.0003, 0.001, 0.002, 0.003, 0.004, 0.005, 0.006, 0.007, 0.008, 0.009, 0.0105, 0.0115, 0.0175, 0.0205, 0.026, 0.0285, 0.038, 0.0575],
];
const eMCE_drMed = [0.0073, 0.0072, 0.007, 0.007, 0.0068, 0.0065, 0.0065, 0.0062, 0.0062, 0.0072, 0.0088, 0.0088, 0.0093, 0.0115, 0.021, 0.0285, 0.0288, 0.0242, 0.0237, 0.0143];
const eMCE_dr84 = [0.0203, 0.0215, 0.0213, 0.021, 0.0198, 0.017, 0.0128, 0.0112, 0.0127, 0.0145, 0.0155, 0.017, 0.0188, 0.0215, 0.0445, 0.0475, 0.0427, 0.0345, 0.0308, 0.0245];

const ROWS = [
  { pfa: [aDE_pfa, aMCE_pfa], pfaMed: [aDE_pfaMed, aMCE_pfaMed], pfa84: [aDE_pfa84, aMCE_pfa84], dr: [aDE_dr, aMCE_dr], drMed: [aDE_drMed, aMCE_drMed], dr84: [aDE_dr84, aMCE_dr84] },
  { pfa: [bDE_pfa, bMCE_pfa], pfaMed: [bDE_pfaMed, bMCE_pfaMed], pfa84: [bDE_pfa84, bMCE_pfa84], dr: [bDE_dr, bMCE_dr], drMed: [bDE_drMed, bMCE_drMed], dr84: [bDE_dr84, bMCE_dr84] },
  { pfa: [cDE_pfa, cMCE_pfa], pfaMed: [cDE_pfaMed, cMCE_pfaMed], pfa84: [cDE_pfa84, cMCE_pfa84], dr: [cDE_dr, cMCE_dr], drMed: [cDE_drMed, cMCE_drMed], dr84: [cDE_dr84, cMCE_dr84] },
  { pfa: [dDE_pfa, dMCE_pfa], pfaMed: [dDE_pfaMed, dMCE_pfaMed], pfa84: [dDE_pfa84, dMCE_pfa84], dr: [dDE_dr, dMCE_dr], drMed: [dDE_drMed, dMCE_drMed], dr84: [dDE_dr84, dMCE_dr84] },
  { pfa: [eDE_pfa, eMCE_pfa], pfaMed: [eDE_pfaMed, eMCE_pfaMed], pfa84: [eDE_pfa84, eMCE_pfa84], dr: [eDE_dr, eMCE_dr], drMed: [eDE_drMed, eMCE_drMed], dr84: [eDE_dr84, eMCE_dr84] },
];

// ---------------- layout ----------------
const COL_LEFT = [101, 343, 627, 868];
const COL_W = 200;
const ROW_TOP = [37, 320.5, 604, 887.5, 1171];
const ROW_H = 231.5;
const ROWLABEL_Y = [153, 437, 720, 1004, 1288];
const ZH_Y = [147, 432, 715, 999, 1283];
const FLOOR_Y = [152, 437, 720, 1008, 1286];
const FLOOR_X = [597, 597, 597, 590, 590];

function stepPoints(vals: number[]) {
  const pts: number[][] = [];
  vals.forEach((v, i) => {
    pts.push([v, i + 1]);
    pts.push([v, i + 2]);
  });
  return pts;
}

function txt(x: number, y: number, text: string, size: number, o: any = {}) {
  const align = o.align || "center";
  return {
    type: "text",
    x,
    y,
    rotation: o.rot || 0,
    silent: true,
    z: 100,
    style: {
      text,
      fill: o.fill || "#222",
      font: `${o.italic ? "italic " : ""}${size}px ${SERIF}`,
      lineHeight: o.lineHeight,
      textAlign: align,
      align,
      textVerticalAlign: "middle",
      verticalAlign: "middle",
    },
  };
}

function buildOption() {
  const grid: any[] = [];
  const xAxis: any[] = [];
  const yAxis: any[] = [];
  const series: any[] = [];
  const graphic: any[] = [];

  const axisBase = {
    type: "value",
    axisLine: { show: true, onZero: false, lineStyle: { color: "#333", width: 1 } },
    axisTick: { show: true, inside: true, length: 4, lineStyle: { color: "#333" } },
    axisLabel: { color: "#333", fontSize: 16, fontFamily: SERIF },
    splitLine: { show: true, lineStyle: { color: "#e2e2e2", width: 1 } },
  };

  ROWS.forEach((row, r) => {
    const n = STOREYS[r];
    for (let c = 0; c < 4; c++) {
      const i = grid.length;
      const k = c % 2;
      grid.push({ left: COL_LEFT[c], top: ROW_TOP[r], width: COL_W, height: ROW_H, show: true, borderColor: "#555", borderWidth: 1 });
      if (c < 2) {
        xAxis.push({ ...axisBase, gridIndex: i, min: 0, max: 3, interval: 0.5, axisLabel: { ...axisBase.axisLabel, margin: 5 } });
        yAxis.push({ ...axisBase, gridIndex: i, min: 0, max: 1, interval: 0.2, axisLabel: { ...axisBase.axisLabel, margin: 7 } });
        const levels = row.pfa[k];
        const pts: number[][] = [];
        levels.forEach((vals: number[], j: number) => {
          const z = (levels.length - j) / levels.length;
          vals.forEach((v) => pts.push([v, z]));
        });
        series.push({ type: "scatter", xAxisIndex: i, yAxisIndex: i, data: pts, symbol: "circle", symbolSize: 4, itemStyle: { color: "#000" }, z: 2, silent: true });
        series.push({ type: "line", xAxisIndex: i, yAxisIndex: i, data: ASCE_716, symbol: "none", lineStyle: { color: "#444", width: 1, type: [6, 4] }, z: 3, silent: true });
        const med = row.pfaMed[k];
        series.push({ type: "line", xAxisIndex: i, yAxisIndex: i, data: med.map((v: number, j: number) => [v, j / (med.length - 1)]), symbol: "none", lineStyle: { color: "#000", width: 2 }, z: 5, silent: true });
        const p84 = row.pfa84[k];
        series.push({ type: "line", xAxisIndex: i, yAxisIndex: i, data: p84.map((v: number, j: number) => [v, j / (p84.length - 1)]), symbol: "none", lineStyle: { color: "#777", width: 1.5, type: [1.5, 1.5] }, z: 4, silent: true });
      } else {
        const top = n + 1;
        xAxis.push({
          ...axisBase, gridIndex: i, min: 0, max: 0.06, interval: 0.02,
          minorTick: { show: true, splitNumber: 2, length: 3, lineStyle: { color: "#333" } },
          axisLabel: { ...axisBase.axisLabel, margin: 5 },
        });
        yAxis.push({
          ...axisBase, gridIndex: i, min: 1, max: top, interval: 1,
          axisLabel: {
            ...axisBase.axisLabel, margin: 7,
            formatter: (v: number) => (v === top ? "r" : n >= 20 && v % 2 === 0 ? "" : String(v)),
          },
        });
        const floors = row.dr[k];
        const pts: number[][] = [];
        floors.forEach((vals: number[], j: number) => {
          const f = top - j;
          vals.forEach((v) => pts.push([v, f]));
        });
        series.push({ type: "scatter", xAxisIndex: i, yAxisIndex: i, data: pts, symbol: "circle", symbolSize: 4, itemStyle: { color: "#000" }, z: 2, silent: true });
        series.push({ type: "line", xAxisIndex: i, yAxisIndex: i, data: stepPoints(row.dr84[k]), symbol: "none", lineStyle: { color: "#777", width: 1.5, type: [1.5, 1.5] }, z: 4, silent: true });
        series.push({ type: "line", xAxisIndex: i, yAxisIndex: i, data: stepPoints(row.drMed[k]), symbol: "none", lineStyle: { color: "#000", width: 2 }, z: 5, silent: true });
        if (c === 2) {
          series.push({ type: "line", xAxisIndex: i, yAxisIndex: i, data: [[DRIFT_LIMIT, 1], [DRIFT_LIMIT, top]], symbol: "none", lineStyle: { color: "#000", width: 2, type: [6, 4] }, z: 6, silent: true });
        }
      }
    }
    // row annotations
    graphic.push(txt(22, ROWLABEL_Y[r], ROW_LABELS[r], 21, { fill: "#222" }));
    graphic.push(txt(63, ZH_Y[r], "z/h", 23, { italic: true, rot: Math.PI / 2, fill: "#333" }));
    graphic.push(txt(FLOOR_X[r], FLOOR_Y[r], "Floor", 23, { rot: Math.PI / 2, fill: "#333" }));
  });

  // column titles
  const cx = COL_LEFT.map((l) => l + COL_W / 2);
  graphic.push(txt(cx[0], 22, "DE", 23));
  graphic.push(txt(cx[2], 23, "DE", 23));
  [1, 3].forEach((c) => {
    graphic.push(txt(cx[c] + 21, 15, "MCE", 23, { align: "right" }));
    graphic.push(txt(cx[c] + 22, 28, "R", 13, { align: "left" }));
  });
  // bottom axis names
  graphic.push(txt(cx[0], 1439, "PFA/PGA", 22, { fill: "#333" }));
  graphic.push(txt(cx[1], 1439, "PFA/PGA", 22, { fill: "#333" }));
  graphic.push(txt(cx[2], 1439, "PSDR", 22, { fill: "#333" }));
  graphic.push(txt(cx[3], 1439, "PSDR", 22, { fill: "#333" }));

  // legend in (a) PFA DE panel
  const lg = [
    { y: 219.5, label: "Median" },
    { y: 231, label: "84 PCTL" },
    { y: 244, label: "ASCE 7-16" },
    { y: 256.5, label: "Data" },
  ];
  graphic.push({ type: "line", silent: true, z: 100, shape: { x1: 213, y1: lg[0].y, x2: 245, y2: lg[0].y }, style: { stroke: "#000", lineWidth: 2 } });
  graphic.push({ type: "line", silent: true, z: 100, shape: { x1: 213, y1: lg[1].y, x2: 245, y2: lg[1].y }, style: { stroke: "#555", lineWidth: 1.5, lineDash: [1.5, 1.5] } });
  graphic.push({ type: "line", silent: true, z: 100, shape: { x1: 213, y1: lg[2].y, x2: 245, y2: lg[2].y }, style: { stroke: "#000", lineWidth: 1.8, lineDash: [7, 3] } });
  graphic.push({ type: "circle", silent: true, z: 100, shape: { cx: 229, cy: lg[3].y, r: 2 }, style: { fill: "#000" } });
  lg.forEach((l) => graphic.push(txt(248, l.y, l.label, 11, { align: "left" })));

  // legend in (a) PSDR DE panel
  graphic.push({ type: "line", silent: true, z: 100, shape: { x1: 747, y1: 47, x2: 773, y2: 47 }, style: { stroke: "#000", lineWidth: 2 } });
  graphic.push({ type: "line", silent: true, z: 100, shape: { x1: 747, y1: 60, x2: 773, y2: 60 }, style: { stroke: "#555", lineWidth: 1.5, lineDash: [1.5, 1.5] } });
  graphic.push(txt(777, 47, "Median", 11.5, { align: "left" }));
  graphic.push(txt(777, 60, "84 PCTL", 11.5, { align: "left" }));

  // drift ratio limit annotation
  graphic.push(txt(774, 106, "drift", 17, { align: "left" }));
  graphic.push(txt(774, 123, "ratio", 17, { align: "left" }));
  graphic.push(txt(774, 140, "limit", 17, { align: "left" }));
  graphic.push({ type: "line", silent: true, z: 100, shape: { x1: 727, y1: 120.5, x2: 767, y2: 120.5 }, style: { stroke: "#000", lineWidth: 1 } });
  graphic.push({ type: "polygon", silent: true, z: 100, shape: { points: [[721.5, 120.5], [728, 117.8], [728, 123.2]] }, style: { fill: "#000" } });

  return {
    animation: false,
    backgroundColor: "#fff",
    grid,
    xAxis,
    yAxis,
    series,
    graphic: { elements: graphic },
  };
}

export default function App() {
  const ref = useRef<HTMLDivElement>(null);
  useEffect(() => {
    if (!ref.current) return;
    const chart = echarts.init(ref.current, undefined, { renderer: "svg" });
    chart.setOption(buildOption() as any);
    return () => chart.dispose();
  }, []);
  return (
    <div
      ref={ref}
      style={{ position: "absolute", left: 0, top: 0, width: 1091, height: 1450, background: "#fff" }}
    />
  );
}
